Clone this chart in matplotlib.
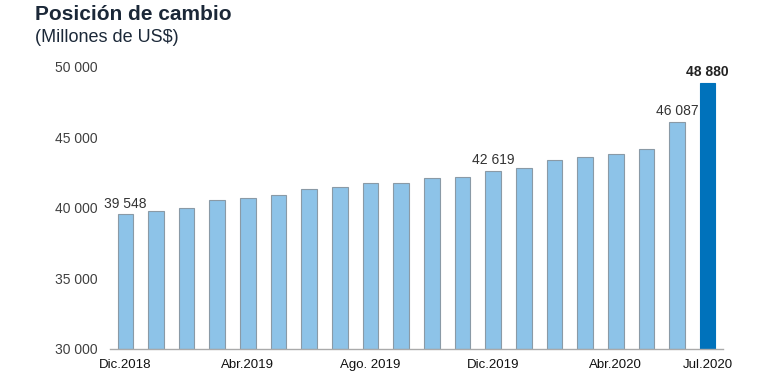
import matplotlib
matplotlib.use("Agg")
import matplotlib.pyplot as plt

plt.rcParams['font.family'] = ['Liberation Sans', 'DejaVu Sans']

months = ["Dic.2018", "Ene.2019", "Feb.2019", "Mar.2019", "Abr.2019", "May.2019",
          "Jun.2019", "Jul.2019", "Ago. 2019", "Set.2019", "Oct.2019", "Nov.2019",
          "Dic.2019", "Ene.2020", "Feb.2020", "Mar.2020", "Abr.2020", "May.2020",
          "Jun.2020", "Jul.2020"]
values = [39548, 39810, 40020, 40570, 40730, 40920, 41370, 41470, 41770, 41780,
          42150, 42170, 42619, 42840, 43380, 43570, 43850, 44140, 46087, 48880]
tick_idx = [0, 4, 8, 12, 16, 19]
labeled_idx = [0, 12, 18, 19]
yticks = [30000, 35000, 40000, 45000, 50000]

def fmt(v):
    return f"{v:,}".replace(",", " ")

fig = plt.figure(figsize=(7.8, 3.78), dpi=100)
ax = fig.add_axes([110/780, 1-349/378, (723-110)/780, (349-66.7)/378])

x = list(range(len(values)))
colors = ["#8DC3E8"] * (len(values) - 1) + ["#0072BB"]
edges = ["#8A9AA6"] * (len(values) - 1) + ["#0072BB"]
ax.bar(x, [v - 30000 for v in values], bottom=30000, width=0.51,
       color=colors, edgecolor=edges, linewidth=0.8, zorder=2)

for i in labeled_idx:
    bold = (i == len(values) - 1)
    ax.text(i, values[i] + 250, fmt(values[i]), ha="center", va="bottom",
            fontsize=10, color="#333333" if not bold else "#222222",
            fontweight="bold" if bold else "normal")

ax.set_xlim(-0.5, 19.5)
ax.set_ylim(30000, 50000)
ax.set_yticks(yticks)
ax.set_yticklabels([fmt(v) for v in yticks], fontsize=10, color="#404040")
ax.set_xticks(tick_idx)
ax.set_xticklabels([months[i] for i in tick_idx], fontsize=9.5, color="#111111")
ax.tick_params(axis="both", length=0)
ax.tick_params(axis="y", pad=9)
ax.tick_params(axis="x", pad=7)
for s in ["top", "right", "left"]:
    ax.spines[s].set_visible(False)
ax.spines["bottom"].set_color("#AAAAAA")
ax.spines["bottom"].set_linewidth(1.0)

fig.text(35/780, 1-15/378, "Posición de cambio", fontsize=15, fontweight="bold",
         color="#1B2838", ha="left", va="center")
fig.text(35/780, 1-37/378, "(Millones de US$)", fontsize=13,
         color="#1B2838", ha="left", va="center")

fig.savefig("out.png", dpi=100)
